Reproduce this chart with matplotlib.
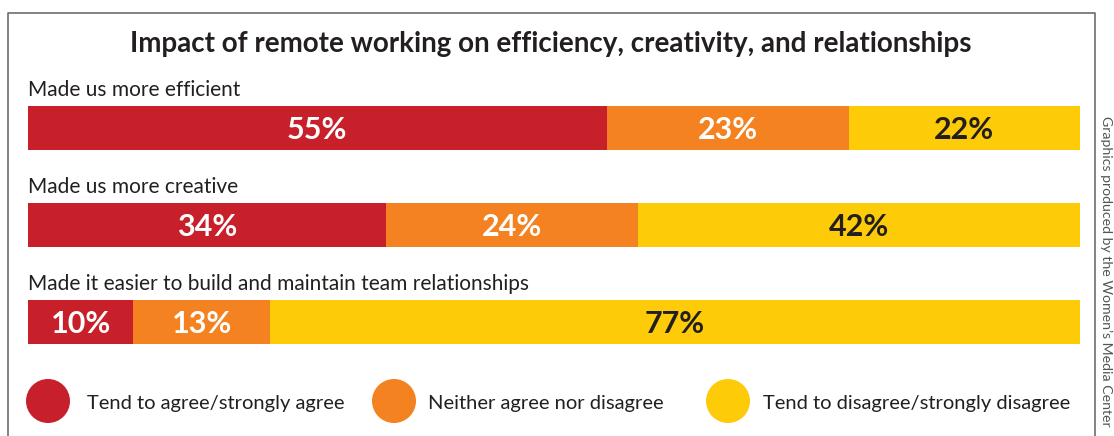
import matplotlib
matplotlib.use("Agg")
import matplotlib.pyplot as plt
from matplotlib.patches import Circle

# Survey results (percent of respondents)
statements = [
    "Made us more efficient",
    "Made us more creative",
    "Made it easier to build and maintain team relationships",
]
agree = [55, 34, 10]
neutral = [23, 24, 13]
disagree = [22, 42, 77]
response_labels = [
    "Tend to agree/strongly agree",
    "Neither agree nor disagree",
    "Tend to disagree/strongly disagree",
]
title = "Impact of remote working on efficiency, creativity, and relationships"
credit = "Graphics produced by the Women\u2019s Media Center"

colors = ["#C8202A", "#F58220", "#FDCB08"]
text_colors = ["white", "white", "#231F20"]

W, H = 1114, 436
fig = plt.figure(figsize=(W / 100, H / 100), dpi=100)
font = "Lato"

# overlay in pixel coordinates for frame, headings and legend
ov = fig.add_axes([0, 0, 1, 1])
ov.set_xlim(0, W)
ov.set_ylim(H, 0)
ov.axis("off")
ov.plot([8, 8, 1095, 1095], [H + 5, 13, 13, H + 5], color="#6d6d6d", lw=1.2)

ov.text(551, 44, title, ha="center", va="center", fontsize=20,
        fontweight="bold", color="#231F20", family=font)

# bars
bx0, bx1 = 28, 1080
by0, by1 = 106, 344
ax = fig.add_axes([bx0 / W, (H - by1) / H, (bx1 - bx0) / W, (by1 - by0) / H])
n = len(statements)
pitch = 97.0
bh = 44 / pitch
ax.set_xlim(0, 100)
ax.set_ylim(n - 1 + bh / 2, -bh / 2)
ax.axis("off")

series = [agree, neutral, disagree]
for i in range(n):
    left = 0
    for s, vals in enumerate(series):
        v = vals[i]
        ax.barh(i, v, left=left, height=bh, color=colors[s], edgecolor="none")
        ax.text(left + v / 2, i + 0.02, f"{v}%", ha="center", va="center",
                fontsize=22, fontweight="bold", color=text_colors[s], family=font)
        left += v

for i, label in enumerate(statements):
    ov.text(28, 90 + i * pitch, label, ha="left", va="center", fontsize=15,
            color="#231F20", family=font)

# legend
leg_circles = [48, 394, 728]
leg_text = [87, 428, 763]
for s in range(3):
    ov.add_patch(Circle((leg_circles[s], 401), 22, color=colors[s], ec="none"))
    ov.text(leg_text[s], 403, response_labels[s], ha="left", va="center",
            fontsize=14.5, color="#231F20", family=font)

ov.text(1106, 116, credit, rotation=270, ha="left", va="center",
        fontsize=10.2, color="#555555", family=font, rotation_mode="anchor")

fig.savefig("out.png", dpi=100)
